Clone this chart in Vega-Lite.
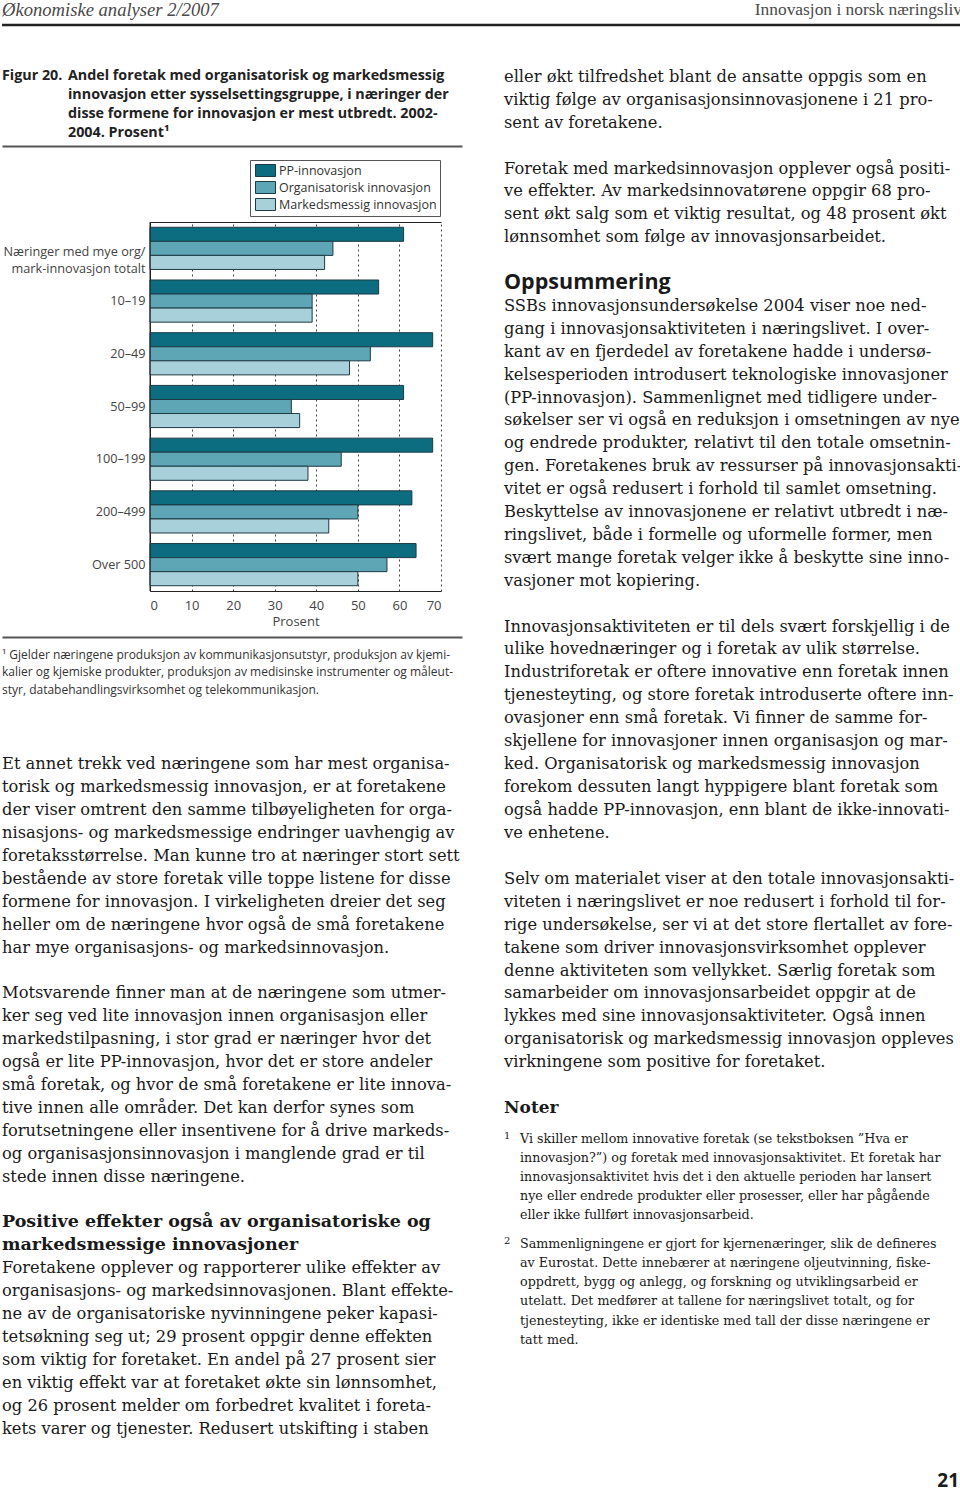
{
  "$schema": "https://vega.github.io/schema/vega-lite/v6.json",
  "padding": 0,
  "background": "white",
  "config": {"view": {"stroke": null}, "font": "Open Sans"},
  "spacing": 0,
  "vconcat": [
    {
      "width": 960, "height": 30,
      "data": {"values": [{"t": "Økonomiske analyser 2/2007", "side": "left"}, {"t": "Innovasjon i norsk næringsliv", "side": "right"}]},
      "layer": [
        {"transform": [{"filter": "datum.side === 'left'"}],
         "mark": {"type": "text", "align": "left", "baseline": "middle", "font": "Liberation Sans Narrow", "fontStyle": "italic", "fontSize": 18.6, "color": "#4a4a4a"},
         "encoding": {"x": {"value": 0}, "y": {"value": 10}, "text": {"field": "t"}}},
        {"transform": [{"filter": "datum.side === 'right'"}],
         "mark": {"type": "text", "align": "right", "baseline": "middle", "font": "Liberation Sans Narrow", "fontSize": 17.4, "color": "#4a4a4a"},
         "encoding": {"x": {"value": 960}, "y": {"value": 10}, "text": {"field": "t"}}},
        {"data": {"values": [{}]},
         "mark": {"type": "rule", "color": "#222", "strokeWidth": 2.5},
         "encoding": {"x": {"value": 0}, "x2": {"value": 960}, "y": {"value": 25}}}
      ]
    },
    {
      "columns": 2,
      "spacing": {"row": 0, "column": 42},
      "concat": [
        {
          "spacing": 0,
          "vconcat": [
            {
              "width": 460, "height": 191,
              "data": {"values": [
                {"n": 0, "role": "label", "t": "Figur 20."},
                {"n": 0, "role": "text", "t": "Andel foretak med organisatorisk og markedsmessig"},
                {"n": 1, "role": "text", "t": "innovasjon etter sysselsettingsgruppe, i næringer der"},
                {"n": 2, "role": "text", "t": "disse formene for innovasjon er mest utbredt. 2002-"},
                {"n": 3, "role": "text", "t": "2004. Prosent¹"}
              ]},
              "encoding": {
                "y": {"field": "n", "type": "quantitative", "scale": {"domain": [-2.421, 7.632], "reverse": true, "nice": false, "zero": false}, "axis": null},
                "x": {"datum": 0, "type": "quantitative", "scale": {"domain": [0, 1], "nice": false},
                      "axis": {"orient": "bottom", "offset": -75, "domain": true, "domainColor": "#555", "domainWidth": 2, "labels": false, "ticks": false, "grid": false, "title": null}},
                "text": {"field": "t"}
              },
              "layer": [
                {"transform": [{"filter": "datum.role === 'label'"}],
                 "mark": {"type": "text", "align": "left", "baseline": "middle", "font": "Open Sans", "fontWeight": "bold", "fontSize": 14.3, "color": "#222"}},
                {"transform": [{"filter": "datum.role === 'text'"}],
                 "mark": {"type": "text", "align": "left", "baseline": "middle", "dx": 66, "font": "Open Sans", "fontWeight": "bold", "fontSize": 14.3, "color": "#222"}}
              ]
            },
            {
              "width": 439, "height": 369,
              "data": {"values": [
                {"gruppe": "Næringer med mye org/mark-innovasjon totalt", "type": "PP-innovasjon", "verdi": 61},
                {"gruppe": "Næringer med mye org/mark-innovasjon totalt", "type": "Organisatorisk innovasjon", "verdi": 44},
                {"gruppe": "Næringer med mye org/mark-innovasjon totalt", "type": "Markedsmessig innovasjon", "verdi": 42},
                {"gruppe": "10–19", "type": "PP-innovasjon", "verdi": 55},
                {"gruppe": "10–19", "type": "Organisatorisk innovasjon", "verdi": 39},
                {"gruppe": "10–19", "type": "Markedsmessig innovasjon", "verdi": 39},
                {"gruppe": "20–49", "type": "PP-innovasjon", "verdi": 68},
                {"gruppe": "20–49", "type": "Organisatorisk innovasjon", "verdi": 53},
                {"gruppe": "20–49", "type": "Markedsmessig innovasjon", "verdi": 48},
                {"gruppe": "50–99", "type": "PP-innovasjon", "verdi": 61},
                {"gruppe": "50–99", "type": "Organisatorisk innovasjon", "verdi": 34},
                {"gruppe": "50–99", "type": "Markedsmessig innovasjon", "verdi": 36},
                {"gruppe": "100–199", "type": "PP-innovasjon", "verdi": 68},
                {"gruppe": "100–199", "type": "Organisatorisk innovasjon", "verdi": 46},
                {"gruppe": "100–199", "type": "Markedsmessig innovasjon", "verdi": 38},
                {"gruppe": "200–499", "type": "PP-innovasjon", "verdi": 63},
                {"gruppe": "200–499", "type": "Organisatorisk innovasjon", "verdi": 50},
                {"gruppe": "200–499", "type": "Markedsmessig innovasjon", "verdi": 43},
                {"gruppe": "Over 500", "type": "PP-innovasjon", "verdi": 64},
                {"gruppe": "Over 500", "type": "Organisatorisk innovasjon", "verdi": 57},
                {"gruppe": "Over 500", "type": "Markedsmessig innovasjon", "verdi": 50}
              ]},
              "layer": [
                {
                  "mark": {"type": "bar", "stroke": "#1d3b44", "strokeWidth": 1},
                  "encoding": {
                    "y": {"field": "gruppe", "type": "nominal",
                          "sort": ["Næringer med mye org/mark-innovasjon totalt", "10–19", "20–49", "50–99", "100–199", "200–499", "Over 500"],
                          "scale": {"paddingInner": 0.2, "paddingOuter": 0.1},
                          "axis": {"title": null, "offset": -148, "ticks": false, "domain": true, "domainColor": "#222", "labelFont": "Open Sans", "labelFontSize": 12.7, "labelColor": "#444", "labelPadding": 5, "labelLimit": 0, "labelLineHeight": 17.5,
                                   "labelOffset": {"condition": {"test": "datum.value === 'Næringer med mye org/mark-innovasjon totalt'", "value": 3.5}, "value": 0},
                                   "labelExpr": "datum.value === 'Næringer med mye org/mark-innovasjon totalt' ? ['Næringer med mye org/', 'mark-innovasjon totalt'] : datum.label"}},
                    "yOffset": {"field": "type", "type": "nominal", "sort": ["PP-innovasjon", "Organisatorisk innovasjon", "Markedsmessig innovasjon"], "scale": {"paddingInner": 0, "paddingOuter": 0}},
                    "x": {"field": "verdi", "type": "quantitative", "scale": {"domain": [0, 70], "range": [148, 439], "nice": false},
                          "axis": {"values": [0, 10, 20, 30, 40, 50, 60, 70], "title": "Prosent", "titleFont": "Open Sans", "titleFontWeight": "normal", "titleFontSize": 13, "titleColor": "#444", "titlePadding": 3,
                                   "labelFont": "Open Sans", "labelFontSize": 13, "labelColor": "#444", "labelPadding": 8, "ticks": false, "domain": true, "domainColor": "#222",
                                   "grid": true, "gridColor": "#444", "gridDash": [2, 3], "gridWidth": 1}},
                    "color": {"field": "type", "type": "nominal",
                              "scale": {"domain": ["PP-innovasjon", "Organisatorisk innovasjon", "Markedsmessig innovasjon"], "range": ["#0d6d80", "#5ea6b6", "#a8d0da"]},
                              "legend": {"title": null, "orient": "none", "legendX": 248, "legendY": 160, "direction": "vertical",
                                         "strokeColor": "#555", "padding": 3, "symbolType": "M-1.5,-0.9H1.5V0.9H-1.5Z", "symbolSize": 178, "symbolOffset": 5,
                                         "symbolStrokeColor": "#1d3b44", "symbolStrokeWidth": 1, "labelFont": "Open Sans", "labelFontSize": 12.5, "labelColor": "#333", "labelOffset": 6, "rowPadding": 0}}
                  }
                },
                {
                  "data": {"values": [{}]},
                  "mark": {"type": "rule", "color": "#222", "strokeWidth": 1},
                  "encoding": {"x": {"datum": 0, "type": "quantitative",
                                     "axis": {"orient": "top", "labels": false, "ticks": false, "grid": false, "domain": true, "domainColor": "#222", "title": null}}}
                }
              ],
              "resolve": {"axis": {"x": "independent"}}
            },
            {
              "width": 460, "height": 80,
              "data": {"values": [
                {"n": 0, "t": "¹ Gjelder næringene produksjon av kommunikasjonsutstyr, produksjon av kjemi-"},
                {"n": 1, "t": "kalier og kjemiske produkter, produksjon av medisinske instrumenter og måleut-"},
                {"n": 2, "t": "styr, databehandlingsvirksomhet og telekommunikasjon."}
              ]},
              "mark": {"type": "text", "align": "left", "baseline": "middle", "font": "Open Sans", "fontSize": 12, "color": "#333"},
              "encoding": {
                "y": {"field": "n", "type": "quantitative", "scale": {"domain": [-1.543, 3.029], "reverse": true, "nice": false, "zero": false}, "axis": null},
                "x": {"datum": 0, "type": "quantitative", "scale": {"domain": [0, 1], "nice": false},
                      "axis": {"orient": "top", "offset": -9, "domain": true, "domainColor": "#555", "domainWidth": 2, "labels": false, "ticks": false, "grid": false, "title": null}},
                "text": {"field": "t"}
              }
            }
          ]
        },
        {
          "width": 458, "height": 722.55,
          "data": {"values": [
            {"n": 0, "role": "body", "t": "eller økt tilfredshet blant de ansatte oppgis som en"},
            {"n": 1, "role": "body", "t": "viktig følge av organisasjonsinnovasjonene i 21 pro-"},
            {"n": 2, "role": "body", "t": "sent av foretakene."},
            {"n": 4, "role": "body", "t": "Foretak med markedsinnovasjon opplever også positi-"},
            {"n": 5, "role": "body", "t": "ve effekter. Av markedsinnovatørene oppgir 68 pro-"},
            {"n": 6, "role": "body", "t": "sent økt salg som et viktig resultat, og 48 prosent økt"},
            {"n": 7, "role": "body", "t": "lønnsomhet som følge av innovasjonsarbeidet."},
            {"n": 9, "role": "heading", "t": "Oppsummering"},
            {"n": 10, "role": "body", "t": "SSBs innovasjonsundersøkelse 2004 viser noe ned-"},
            {"n": 11, "role": "body", "t": "gang i innovasjonsaktiviteten i næringslivet. I over-"},
            {"n": 12, "role": "body", "t": "kant av en fjerdedel av foretakene hadde i undersø-"},
            {"n": 13, "role": "body", "t": "kelsesperioden introdusert teknologiske innovasjoner"},
            {"n": 14, "role": "body", "t": "(PP-innovasjon). Sammenlignet med tidligere under-"},
            {"n": 15, "role": "body", "t": "søkelser ser vi også en reduksjon i omsetningen av nye"},
            {"n": 16, "role": "body", "t": "og endrede produkter, relativt til den totale omsetnin-"},
            {"n": 17, "role": "body", "t": "gen. Foretakenes bruk av ressurser på innovasjonsakti-"},
            {"n": 18, "role": "body", "t": "vitet er også redusert i forhold til samlet omsetning."},
            {"n": 19, "role": "body", "t": "Beskyttelse av innovasjonene er relativt utbredt i næ-"},
            {"n": 20, "role": "body", "t": "ringslivet, både i formelle og uformelle former, men"},
            {"n": 21, "role": "body", "t": "svært mange foretak velger ikke å beskytte sine inno-"},
            {"n": 22, "role": "body", "t": "vasjoner mot kopiering."},
            {"n": 24, "role": "body", "t": "Innovasjonsaktiviteten er til dels svært forskjellig i de"},
            {"n": 25, "role": "body", "t": "ulike hovednæringer og i foretak av ulik størrelse."},
            {"n": 26, "role": "body", "t": "Industriforetak er oftere innovative enn foretak innen"},
            {"n": 27, "role": "body", "t": "tjenesteyting, og store foretak introduserte oftere inn-"},
            {"n": 28, "role": "body", "t": "ovasjoner enn små foretak. Vi finner de samme for-"},
            {"n": 29, "role": "body", "t": "skjellene for innovasjoner innen organisasjon og mar-"}
          ]},
          "encoding": {
            "y": {"field": "n", "type": "quantitative", "scale": {"domain": [-2.052, 29.5], "reverse": true, "nice": false, "zero": false}, "axis": null},
            "x": {"value": 0},
            "text": {"field": "t"}
          },
          "layer": [
            {"transform": [{"filter": "datum.role === 'body'"}],
             "mark": {"type": "text", "align": "left", "baseline": "middle", "font": "DejaVu Serif", "fontSize": 16.3, "color": "#1a1a1a"}},
            {"transform": [{"filter": "datum.role === 'heading'"}],
             "mark": {"type": "text", "align": "left", "baseline": "middle", "font": "Open Sans", "fontWeight": "bold", "fontSize": 21.5, "color": "#1a1a1a"}}
          ]
        },
        {
          "width": 460, "height": 738.45,
          "data": {"values": [
            {"n": 0, "role": "body", "t": "Et annet trekk ved næringene som har mest organisa-"},
            {"n": 1, "role": "body", "t": "torisk og markedsmessig innovasjon, er at foretakene"},
            {"n": 2, "role": "body", "t": "der viser omtrent den samme tilbøyeligheten for orga-"},
            {"n": 3, "role": "body", "t": "nisasjons- og markedsmessige endringer uavhengig av"},
            {"n": 4, "role": "body", "t": "foretaksstørrelse. Man kunne tro at næringer stort sett"},
            {"n": 5, "role": "body", "t": "bestående av store foretak ville toppe listene for disse"},
            {"n": 6, "role": "body", "t": "formene for innovasjon. I virkeligheten dreier det seg"},
            {"n": 7, "role": "body", "t": "heller om de næringene hvor også de små foretakene"},
            {"n": 8, "role": "body", "t": "har mye organisasjons- og markedsinnovasjon."},
            {"n": 10, "role": "body", "t": "Motsvarende finner man at de næringene som utmer-"},
            {"n": 11, "role": "body", "t": "ker seg ved lite innovasjon innen organisasjon eller"},
            {"n": 12, "role": "body", "t": "markedstilpasning, i stor grad er næringer hvor det"},
            {"n": 13, "role": "body", "t": "også er lite PP-innovasjon, hvor det er store andeler"},
            {"n": 14, "role": "body", "t": "små foretak, og hvor de små foretakene er lite innova-"},
            {"n": 15, "role": "body", "t": "tive innen alle områder. Det kan derfor synes som"},
            {"n": 16, "role": "body", "t": "forutsetningene eller insentivene for å drive markeds-"},
            {"n": 17, "role": "body", "t": "og organisasjonsinnovasjon i manglende grad er til"},
            {"n": 18, "role": "body", "t": "stede innen disse næringene."},
            {"n": 20, "role": "heading", "t": "Positive effekter også av organisatoriske og"},
            {"n": 21, "role": "heading", "t": "markedsmessige innovasjoner"},
            {"n": 22, "role": "body", "t": "Foretakene opplever og rapporterer ulike effekter av"},
            {"n": 23, "role": "body", "t": "organisasjons- og markedsinnovasjonen. Blant effekte-"},
            {"n": 24, "role": "body", "t": "ne av de organisatoriske nyvinningene peker kapasi-"},
            {"n": 25, "role": "body", "t": "tetsøkning seg ut; 29 prosent oppgir denne effekten"},
            {"n": 26, "role": "body", "t": "som viktig for foretaket. En andel på 27 prosent sier"},
            {"n": 27, "role": "body", "t": "en viktig effekt var at foretaket økte sin lønnsomhet,"},
            {"n": 28, "role": "body", "t": "og 26 prosent melder om forbedret kvalitet i foreta-"},
            {"n": 29, "role": "body", "t": "kets varer og tjenester. Redusert utskifting i staben"}
          ]},
          "encoding": {
            "y": {"field": "n", "type": "quantitative", "scale": {"domain": [-0.5, 31.747], "reverse": true, "nice": false, "zero": false}, "axis": null},
            "x": {"value": 0},
            "text": {"field": "t"}
          },
          "layer": [
            {"transform": [{"filter": "datum.role === 'body'"}],
             "mark": {"type": "text", "align": "left", "baseline": "middle", "font": "DejaVu Serif", "fontSize": 16.3, "color": "#1a1a1a"}},
            {"transform": [{"filter": "datum.role === 'heading'"}],
             "mark": {"type": "text", "align": "left", "baseline": "middle", "font": "DejaVu Serif", "fontWeight": "bold", "fontSize": 17.5, "color": "#1a1a1a"}}
          ]
        },
        {
          "spacing": 0,
          "vconcat": [
            {
              "width": 458, "height": 366.4,
              "data": {"values": [
                {"n": 30, "role": "body", "t": "ked. Organisatorisk og markedsmessig innovasjon"},
                {"n": 31, "role": "body", "t": "forekom dessuten langt hyppigere blant foretak som"},
                {"n": 32, "role": "body", "t": "også hadde PP-innovasjon, enn blant de ikke-innovati-"},
                {"n": 33, "role": "body", "t": "ve enhetene."},
                {"n": 35, "role": "body", "t": "Selv om materialet viser at den totale innovasjonsakti-"},
                {"n": 36, "role": "body", "t": "viteten i næringslivet er noe redusert i forhold til for-"},
                {"n": 37, "role": "body", "t": "rige undersøkelse, ser vi at det store flertallet av fore-"},
                {"n": 38, "role": "body", "t": "takene som driver innovasjonsvirksomhet opplever"},
                {"n": 39, "role": "body", "t": "denne aktiviteten som vellykket. Særlig foretak som"},
                {"n": 40, "role": "body", "t": "samarbeider om innovasjonsarbeidet oppgir at de"},
                {"n": 41, "role": "body", "t": "lykkes med sine innovasjonsaktiviteter. Også innen"},
                {"n": 42, "role": "body", "t": "organisatorisk og markedsmessig innovasjon oppleves"},
                {"n": 43, "role": "body", "t": "virkningene som positive for foretaket."},
                {"n": 45, "role": "heading", "t": "Noter"}
              ]},
              "encoding": {
                "y": {"field": "n", "type": "quantitative", "scale": {"domain": [29.5, 45.5], "reverse": true, "nice": false, "zero": false}, "axis": null},
                "x": {"value": 0},
                "text": {"field": "t"}
              },
              "layer": [
                {"transform": [{"filter": "datum.role === 'body'"}],
                 "mark": {"type": "text", "align": "left", "baseline": "middle", "font": "DejaVu Serif", "fontSize": 16.3, "color": "#1a1a1a"}},
                {"transform": [{"filter": "datum.role === 'heading'"}],
                 "mark": {"type": "text", "align": "left", "baseline": "middle", "font": "DejaVu Serif", "fontWeight": "bold", "fontSize": 17, "color": "#1a1a1a"}}
              ]
            },
            {
              "width": 458, "height": 372.05,
              "data": {"values": [
                {"n": 0, "role": "num", "t": "1"},
                {"n": 0, "role": "note", "t": "Vi skiller mellom innovative foretak (se tekstboksen ”Hva er"},
                {"n": 2, "role": "note", "t": "innovasjon?”) og foretak med innovasjonsaktivitet. Et foretak har"},
                {"n": 4, "role": "note", "t": "innovasjonsaktivitet hvis det i den aktuelle perioden har lansert"},
                {"n": 6, "role": "note", "t": "nye eller endrede produkter eller prosesser, eller har pågående"},
                {"n": 8, "role": "note", "t": "eller ikke fullført innovasjonsarbeid."},
                {"n": 11, "role": "num", "t": "2"},
                {"n": 11, "role": "note", "t": "Sammenligningene er gjort for kjernenæringer, slik de defineres"},
                {"n": 13, "role": "note", "t": "av Eurostat. Dette innebærer at næringene oljeutvinning, fiske-"},
                {"n": 15, "role": "note", "t": "oppdrett, bygg og anlegg, og forskning og utviklingsarbeid er"},
                {"n": 17, "role": "note", "t": "utelatt. Det medfører at tallene for næringslivet totalt, og for"},
                {"n": 19, "role": "note", "t": "tjenesteyting, ikke er identiske med tall der disse næringene er"},
                {"n": 21, "role": "note", "t": "tatt med."},
                {"n": 36, "role": "page", "t": "21"}
              ]},
              "encoding": {
                "y": {"field": "n", "type": "quantitative", "scale": {"domain": [-1.995, 36.96], "reverse": true, "nice": false, "zero": false}, "axis": null},
                "text": {"field": "t"}
              },
              "layer": [
                {"transform": [{"filter": "datum.role === 'num'"}],
                 "mark": {"type": "text", "align": "left", "baseline": "middle", "dy": -3, "font": "DejaVu Serif", "fontSize": 10, "color": "#1a1a1a"},
                 "encoding": {"x": {"value": 0}}},
                {"transform": [{"filter": "datum.role === 'note'"}],
                 "mark": {"type": "text", "align": "left", "baseline": "middle", "font": "DejaVu Serif", "fontSize": 12.7, "color": "#1a1a1a"},
                 "encoding": {"x": {"value": 16}}},
                {"transform": [{"filter": "datum.role === 'page'"}],
                 "mark": {"type": "text", "align": "right", "baseline": "middle", "dy": -2, "font": "Open Sans", "fontWeight": "bold", "fontSize": 19, "color": "#1a1a1a"},
                 "encoding": {"x": {"value": 455}}}
              ]
            }
          ]
        }
      ]
    }
  ]
}
